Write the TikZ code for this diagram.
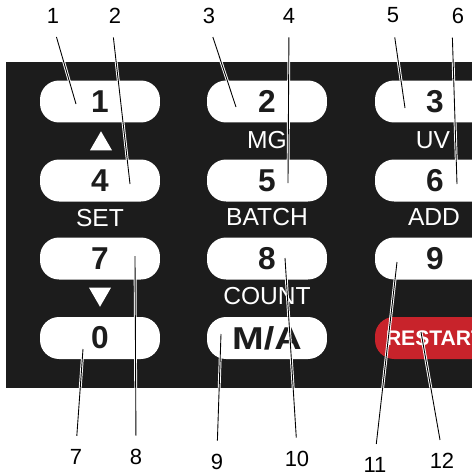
\documentclass[tikz,border=0pt]{standalone}
\usepackage{fontspec}
\setmainfont{Liberation Sans}
\usetikzlibrary{positioning, shapes.geometric}
\definecolor{panelblack}{HTML}{1C1C1C}
\definecolor{restartred}{HTML}{C8232B}

\begin{document}
\begin{tikzpicture}[
      x=0.02cm, y=-0.02cm,
      key/.style={fill=white, rounded corners=0.38cm, minimum width=2.4cm, minimum height=0.84cm, inner sep=0pt, text=panelblack, font=\fontsize{18}{18}\selectfont\bfseries},
      legend/.style={text=white, inner sep=0pt, font=\fontsize{14}{14}\selectfont},
      arrowmark/.style={regular polygon, regular polygon sides=3, fill=white, minimum size=0.51cm, inner sep=0pt},
      callout/.style={inner sep=1pt, font=\fontsize{12.5}{12.5}\selectfont},
      leader/.style={line width=0.5pt, preaction={draw=white, line width=1.6pt}},
    ]
    \useasboundingbox (0,0) rectangle (472,474);

    \begin{scope}
      \clip (0,0) rectangle (472,474);
      % panel
      \fill[panelblack] (6,62) rectangle (480,388);

      % keys
      \node[key] (k1) at (100,101.5) {1};
      \node[key] (k2) at (267,101.5) {2};
      \node[key] (k3) at (435,101.5) {3};
      \node[key] (k4) at (100,180.5) {4};
      \node[key] (k5) at (267,180.5) {5};
      \node[key] (k6) at (435,180.5) {6};
      \node[key] (k7) at (100,258.5) {7};
      \node[key] (k8) at (267,258.5) {8};
      \node[key] (k9) at (435,258.5) {9};
      \node[key] (k0) at (100,338) {0};
      \node[key] (kma) at (267,338) {\scalebox{1.2}[1]{M/A}};
      \node[key, fill=restartred, text=white, font=\fontsize{12}{12}\selectfont\bfseries] (krs) at (435,338) {RESTART};

      % legends between keys
      \node[arrowmark] (up) at (101,144) {};
      \node[legend] (mg) at (267,140) {MG};
      \node[legend] (uv) at (433,140) {UV};
      \node[legend] (set) at (100,218) {SET};
      \node[legend] (batch) at (267,217) {BATCH};
      \node[legend] (add) at (434,217) {ADD};
      \node[arrowmark, shape border rotate=180] (down) at (100,294) {};
      \node[legend] (count) at (267,296) {COUNT};
    \end{scope}

    % callout numbers
    \node[callout] (c1) at (53,15.5) {1};
    \node[callout] (c2) at (115,15.5) {2};
    \node[callout] (c3) at (209,15.5) {3};
    \node[callout] (c4) at (289,15.5) {4};
    \node[callout] (c5) at (393,15.5) {5};
    \node[callout] (c6) at (458,15.5) {6};
    \node[callout] (c7) at (76,457) {7};
    \node[callout] (c8) at (136,457) {8};
    \node[callout] (c9) at (217,462) {9};
    \node[callout] (c10) at (297,459) {10};
    \node[callout] (c11) at (375,465) {11};
    \node[callout] (c12) at (442,461) {12};

    % leader ends
    \coordinate (p1) at (76,104);
    \coordinate (p2) at (130,184);
    \coordinate (p3) at (236,107);
    \coordinate (p4) at (288,183);
    \coordinate (p5) at (405,108);
    \coordinate (p6) at (457,184);
    \coordinate (p7) at (83,349);
    \coordinate (p8) at (135,256);
    \coordinate (p9) at (221,334);
    \coordinate (p10) at (285,258);
    \coordinate (p11) at (397,262);
    \coordinate (p12) at (421,332);

    % leaders
    \draw[leader, shorten <=7pt] (c1.south) -- (p1);
    \draw[leader, shorten <=7pt] ([xshift=-0.06cm]c2.south) -- (p2);
    \draw[leader, shorten <=7pt] (c3.south) -- (p3);
    \draw[leader, shorten <=7pt] (c4.south) -- (p4);
    \draw[leader, shorten <=7pt] (c5.south) -- (p5);
    \draw[leader, shorten <=7pt] ([xshift=-0.12cm]c6.south) -- (p6);
    \draw[leader, shorten <=6.5pt] (c7.north) -- (p7);
    \draw[leader, shorten <=6.5pt] (c8.north) -- (p8);
    \draw[leader, shorten <=6.5pt] (c9.north) -- (p9);
    \draw[leader, shorten <=6.5pt] (c10.north) -- (p10);
    \draw[leader, shorten <=6.5pt] (c11.north) -- (p11);
    \draw[leader, shorten <=6.5pt] (c12.north) -- (p12);
  \end{tikzpicture}
\end{document}
